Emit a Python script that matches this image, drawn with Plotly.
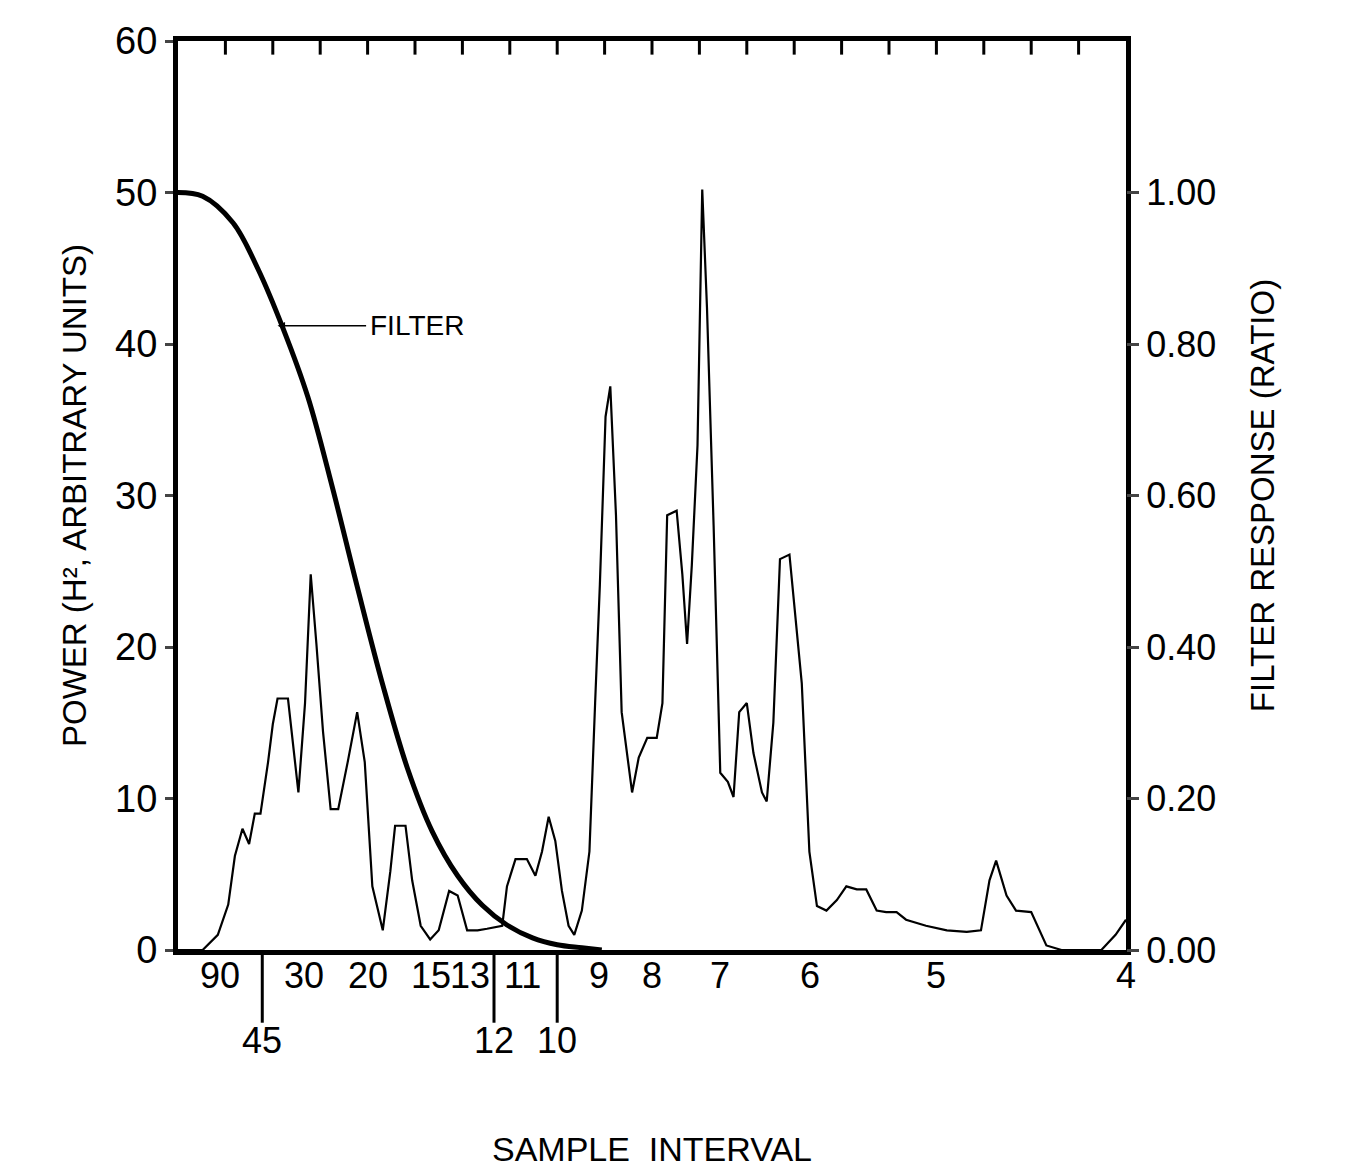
import plotly.graph_objects as go

# frequency axis: harmonic number k (sample interval = 400 / k)
power_k = [0, 2.6, 4.2, 5.3, 6.0, 6.8, 7.5, 8.1, 8.7, 9.5, 10.0, 10.5, 11.6, 12.1, 12.7, 13.4, 14.0, 14.6,
           15.3, 16.1, 16.9, 17.9, 18.9, 19.7, 20.5, 21.6, 22.4, 22.9, 24.0, 24.7, 25.6, 26.6, 27.5, 28.6,
           29.5, 30.5, 31.6, 32.6, 34.2, 34.7, 35.6, 36.8, 37.7, 38.4, 39.1, 39.8, 40.5, 41.2, 41.8, 42.6,
           43.4, 44.0, 44.5, 45.1, 45.6, 46.2, 46.8, 47.9, 48.6, 49.5, 50.5, 51.1, 51.6, 52.6, 53.2, 53.7,
           54.2, 54.8, 55.3, 55.8, 56.5, 57.2, 58.0, 58.6, 59.2, 60.0, 60.7, 61.6, 62.1, 62.8, 63.5, 64.5,
           65.2, 65.8, 66.6, 67.4, 68.4, 69.5, 70.5, 71.6, 72.6, 73.7, 74.7, 75.8, 76.8, 78.9, 81.1, 83.2,
           84.7, 85.6, 86.3, 87.4, 88.4, 90.0, 91.6, 93.2, 97.4, 98.9, 100]
power = [0, 0, 1, 3, 6.2, 8, 7, 9, 9, 12.4, 14.9, 16.6, 16.6, 13.7, 10.4, 16.3, 24.8, 20.2,
         14.4, 9.3, 9.3, 12.4, 15.7, 12.4, 4.2, 1.3, 5.2, 8.2, 8.2, 4.6, 1.6, 0.7, 1.3, 3.9,
         3.6, 1.3, 1.3, 1.4, 1.6, 4.2, 6, 6, 4.9, 6.5, 8.8, 7.2, 3.9, 1.6, 1, 2.6,
         6.5, 16.3, 24.1, 35.2, 37.2, 28.7, 15.7, 10.4, 12.7, 14, 14, 16.3, 28.7, 29, 24.8, 20.2,
         25.4, 33.3, 50.2, 42.4, 28, 11.7, 11.1, 10.1, 15.7, 16.3, 13, 10.4, 9.8, 15, 25.8, 26.1,
         21.5, 17.6, 6.5, 2.9, 2.6, 3.3, 4.2, 4, 4, 2.6, 2.5, 2.5, 2, 1.6, 1.3, 1.2,
         1.3, 4.6, 5.9, 3.6, 2.6, 2.5, 0.3, 0, 0, 1, 2]

filter_k = [0, 2.6, 5.8, 8.4, 11.1, 13.7, 16.3, 18.9, 21.6, 24.2, 26.8, 29.5, 32.1, 34.7, 37.4, 40, 42.6, 44.7]
filter_ratio = [1.0, 0.995, 0.96, 0.90, 0.82, 0.73, 0.61, 0.48, 0.35, 0.24, 0.157, 0.098, 0.059, 0.033,
                0.016, 0.007, 0.003, 0.0]

upper_labels = ["90", "30", "20", "15", "13", "11", "9", "8", "7", "6", "5", "4"]
lower_labels = ["45", "12", "10"]

font = "Liberation Sans, Arial, sans-serif"

fig = go.Figure()
fig.add_trace(go.Scatter(x=power_k, y=power, mode="lines", line=dict(color="black", width=2.2)))
fig.add_trace(go.Scatter(x=filter_k, y=filter_ratio, yaxis="y2", mode="lines",
                         line=dict(color="black", width=5, shape="spline")))

ann = []
for lab in upper_labels:
    ann.append(dict(x=400 / int(lab), y=-0.003, xref="x", yref="paper", text=lab, showarrow=False,
                    yanchor="top", font=dict(size=36, family=font, color="black")))
shapes = []
for lab in lower_labels:
    k = 400 / int(lab)
    ann.append(dict(x=k, y=-0.075, xref="x", yref="paper", text=lab, showarrow=False,
                    yanchor="top", font=dict(size=36, family=font, color="black")))
    shapes.append(dict(type="line", xref="x", yref="paper", x0=k, x1=k, y0=0, y1=-0.08,
                       line=dict(color="black", width=3)))

ann.append(dict(x=10.5, y=41.2, xref="x", yref="y", ax=20, ay=41.2, axref="x", ayref="y",
                text="", showarrow=True, arrowhead=2, arrowsize=1, arrowwidth=1.5, arrowcolor="black"))
ann.append(dict(x=20, y=41.2, xref="x", yref="y", text="FILTER", showarrow=False, xanchor="left",
                font=dict(size=28, family=font, color="black")))

fig.update_layout(
    width=1346, height=1167,
    margin=dict(l=170, r=228, t=23, b=225),
    paper_bgcolor="white", plot_bgcolor="white",
    showlegend=False,
    font=dict(family=font, color="black"),
    xaxis=dict(range=[0, 100], showticklabels=False, ticks="", showgrid=False, zeroline=False,
               showline=True, mirror=True, linecolor="black", linewidth=5,
               title=dict(text="SAMPLE  INTERVAL", font=dict(size=34), standoff=185)),
    yaxis=dict(range=[0, 60], dtick=10, ticks="outside", ticklen=8, tickwidth=3, showgrid=False,
               zeroline=False, showline=True, mirror=True, linecolor="black", linewidth=5,
               tickfont=dict(size=38),
               title=dict(text="POWER (H², ARBITRARY UNITS)", font=dict(size=33), standoff=20)),
    yaxis2=dict(range=[0, 1.2], overlaying="y", side="right", tickvals=[0, 0.2, 0.4, 0.6, 0.8, 1.0],
                ticktext=["0.00", "0.20", "0.40", "0.60", "0.80", "1.00"], ticks="outside",
                ticklen=12, tickwidth=3, showgrid=False, zeroline=False, tickfont=dict(size=36),
                title=dict(text="FILTER RESPONSE (RATIO)", font=dict(size=33), standoff=35)),
    annotations=ann, shapes=shapes,
)
# top inward ticks every 5 harmonics
for k in range(5, 100, 5):
    fig.add_shape(type="line", xref="x", yref="paper", x0=k, x1=k, y0=1, y1=0.985,
                  line=dict(color="black", width=3))

fig.write_html("out.html")
